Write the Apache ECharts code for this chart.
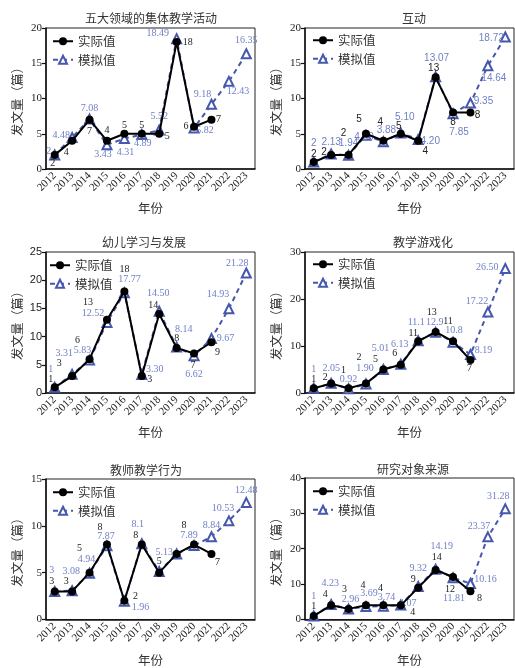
<!DOCTYPE html>
<html><head><meta charset="utf-8">
<script src="https://cdn.jsdelivr.net/npm/echarts@6/dist/echarts.min.js"></script>
<style>html,body{margin:0;padding:0;background:#fff;}#c{width:515px;height:668px;}</style>
</head><body><div id="c"></div>
<script>
var years = ['2012','2013','2014','2015','2016','2017','2018','2019','2020','2021','2022','2023'];

var titles = ['五大领域的集体教学活动','互动','幼儿学习与发展','教学游戏化','教师教学行为','研究对象来源'];
var yMax = [20, 20, 25, 30, 15, 40];
var yStep = [5, 5, 5, 10, 5, 10];

var actual1 = [2,4,7,4,5,5,5,18,6,7];
var sim1 = [2,4.48,7.08,3.43,4.31,4.89,5.52,18.49,5.82,9.18,12.43,16.35];
var actual2 = [1,2,2,5,4,5,4,13,8,8];
var sim2 = [1,2.13,1.94,4.80,3.88,5.10,4.20,13.07,7.85,9.35,14.64,18.72];
var actual3 = [1,3,6,13,18,3,14,8,7,9];
var sim3 = [1,3.31,5.83,12.52,17.77,3.30,14.50,8.14,6.62,9.67,14.93,21.28];
var actual4 = [1,2,1,2,5,6,11,13,11,7];
var sim4 = [1,2.05,0.92,1.90,5.01,6.13,11.1,12.9,10.8,8.19,17.22,26.50];
var actual5 = [3,3,5,8,2,8,5,7,8,7];
var sim5 = [3,3.08,4.94,7.87,1.96,8.1,5.13,7,7.89,8.84,10.53,12.48];
var actual6 = [1,4,3,4,4,4,9,14,12,8];
var sim6 = [1,4.23,2.96,3.69,3.74,4.07,9.32,14.19,11.81,10.16,23.37,31.28];

// label texts as printed in the picture
var actualText1 = ['2','4','7','4','5','5','5','18','6','7'];
var simText1 = ['2','4.48','7.08','3.43','4.31','4.89','5.52','18.49','5.82','9.18','12.43','16.35'];
var actualText2 = ['2','2','2','5','4','5','4','13','8','8'];
var simText2 = ['2','2.13','1.94','4.80','3.88','5.10','4.20','13.07','7.85','9.35','14.64','18.72'];
var actualText3 = ['1','3','6','13','18','3','14','8','7','9'];
var simText3 = ['1','3.31','5.83','12.52','17.77','3.30','14.50','8.14','6.62','9.67','14.93','21.28'];
var actualText4 = ['1','2','1','2','5','6','11','13','11','7'];
var simText4 = ['1','2.05','0.92','1.90','5.01','6.13','11.1','12.9','10.8','8.19','17.22','26.50'];
var actualText5 = ['3','3','5','8','2','8','5','','8','7'];
var simText5 = ['3','3.08','4.94','7.87','1.96','8.1','5.13','','7.89','8.84','10.53','12.48'];
var actualText6 = ['1','4','3','4','4','4','9','14','12','8'];
var simText6 = ['1','4.23','2.96','3.69','3.74','4.07','9.32','14.19','11.81','10.16','23.37','31.28'];

// label placement (pixel offsets from each point)
var actualOff = [
  [[-2,8],[-6,12],[0,12],[0,-10],[0,-8],[0,-8],[8,3],[11,0],[-8,0],[7,0]],
  [[0,-8],[-7,-3],[-5,-22],[-7,-15],[-3,-19],[-2,-8],[7,10],[-2,-9],[0,10],[7,3]],
  [[-4,-8],[-13,-13],[-12,-19],[-19,-17],[0,-22],[8,3],[-6,-9],[0,-10],[-1,12],[6,10]],
  [[0,-9],[-6,-6],[-5,-18],[-7,-26],[-8,-10],[-6,-11],[-5,-8],[-4,-20],[-5,-20],[-1,8]],
  [[-3,-10],[-6,-10],[-10,-24],[-7,-17],[11,-4],[-6,-9],[0,-11],[0,0],[-10,-19],[6,8]],
  [[0,-10],[-6,-11],[-4,-20],[-3,-20],[-3,-17],[12,7],[-5,-8],[1,-13],[-3,12],[9,7]]
];
var simOff = [
  [[-6,-4],[-11,-2],[0,-11],[-4,10],[1,14],[1,9],[0,-14],[-19,-5],[11,2],[-9,-10],[9,10],[0,-13]],
  [[0,-19],[0,-12],[0,-12],[-2,2],[3,-11],[4,-16],[12,2],[1,-19],[6,19],[13,-2],[6,12],[-14,1]],
  [[-4,-18],[-8,-21],[-7,-10],[-14,-9],[5,-13],[13,-5],[-1,-18],[7,-18],[0,19],[14,0],[-11,-14],[-9,-10]],
  [[0,-19],[0,-15],[0,-9],[-1,-16],[-3,-21],[-1,-20],[-2,-18],[-1,-10],[1,-12],[13,-4],[-11,-11],[-18,-1]],
  [[-3,-21],[-1,-19],[-3,-14],[-1,-9],[16,6],[-4,-19],[5,-19],[0,0],[-5,-10],[0,-11],[-6,-12],[0,-12]],
  [[0,-20],[-1,-21],[2,-10],[3,-13],[3,-9],[7,-2],[0,-18],[6,-23],[1,21],[15,-4],[-9,-10],[-7,-12]]
];

var actuals = [actual1,actual2,actual3,actual4,actual5,actual6];
var sims = [sim1,sim2,sim3,sim4,sim5,sim6];
var actualTexts = [actualText1,actualText2,actualText3,actualText4,actualText5,actualText6];
var simTexts = [simText1,simText2,simText3,simText4,simText5,simText6];

var grids = [
  {left:46, top:28, width:209, height:141},
  {left:305, top:28, width:209, height:141},
  {left:46, top:252, width:209, height:141},
  {left:305, top:252, width:209, height:141},
  {left:46, top:479, width:209, height:142},
  {left:305, top:478, width:209, height:142}
];
var titlePos = [[146,7],[409,7],[139,231],[418,231],[141,459],[408,458]];
var legendPos = [[47,30],[307,29],[44,254],[307,253],[47,481],[307,480]];

var SERIF = "'Liberation Serif', 'Noto Sans CJK SC', serif";
var SANS = "'Liberation Sans', 'Noto Sans CJK SC', sans-serif";
var CJK = "'Noto Sans CJK SC', sans-serif";
var BLUE = '#4657ae';
var BLUE_TXT = '#6f7fc6';

var option = {
  animation: false,
  backgroundColor: '#fff',
  title: [], legend: [], grid: [], xAxis: [], yAxis: [], series: []
};

for (var p = 0; p < 6; p++) {
  var g = grids[p];
  option.grid.push({left:g.left, top:g.top, width:g.width, height:g.height,
    show:true, borderColor:'#222', borderWidth:1, backgroundColor:'transparent'});
  option.title.push({text:titles[p], left:titlePos[p][0], top:titlePos[p][1], textAlign:'center',
    textStyle:{fontFamily:CJK, fontSize:12, fontWeight:'normal', color:'#333'}});
  option.legend.push({orient:'vertical', left:legendPos[p][0], top:legendPos[p][1],
    itemWidth:20, itemHeight:10, itemGap:6, data:['实际值','模拟值'],
    textStyle:{fontFamily:CJK, fontSize:12.5, color:'#333'}, selectedMode:false});
  option.xAxis.push({type:'category', gridIndex:p, data:years, boundaryGap:true,
    name:'年份', nameLocation:'middle', nameGap:(p >= 4 ? 35 : 33),
    nameTextStyle:{fontFamily:CJK, fontSize:12.5, color:'#333'},
    axisLine:{lineStyle:{color:'#111', width:1.5}},
    axisTick:{alignWithLabel:true, length:4, lineStyle:{color:'#111', width:1.2}},
    axisLabel:{rotate:45, fontFamily:SERIF, fontSize:11, color:'#222', margin:5, interval:0},
    splitLine:{show:false}});
  option.yAxis.push({type:'value', gridIndex:p, min:0, max:yMax[p], interval:yStep[p],
    name:'发文量（篇）', nameLocation:'middle', nameGap:22, nameRotate:90,
    nameTextStyle:{fontFamily:CJK, fontSize:12.5, color:'#333'},
    axisLine:{show:true, lineStyle:{color:'#111', width:1.5}},
    axisTick:{show:true, length:4, lineStyle:{color:'#111', width:1.2}},
    axisLabel:{fontFamily:(p===2?SANS:SERIF), fontSize:11, color:'#222', margin:4},
    splitLine:{show:false}});

  var labelFont = (p === 1 ? SANS : SERIF);
  var simData = sims[p].map(function(v, i){
    return {value:v, label:{show: simTexts[p][i] !== '', position:'inside', offset:simOff[p][i],
      formatter: simTexts[p][i], color:BLUE_TXT, fontFamily:labelFont, fontSize:10}};
  });
  var actData = actuals[p].map(function(v, i){
    return {value:v, label:{show: actualTexts[p][i] !== '', position:'inside', offset:actualOff[p][i],
      formatter: actualTexts[p][i], color:'#222', fontFamily:labelFont, fontSize:10}};
  });
  option.series.push({name:'模拟值', type:'line', xAxisIndex:p, yAxisIndex:p, data:simData,
    symbol:'emptyTriangle', symbolSize:9, z:2,
    lineStyle:{color:BLUE, width:2, type:[5,4]},
    itemStyle:{color:BLUE, borderColor:BLUE, borderWidth:1.6},
    label:{show:true}});
  option.series.push({name:'实际值', type:'line', xAxisIndex:p, yAxisIndex:p, data:actData,
    symbol:'circle', symbolSize:8, z:3,
    lineStyle:{color:'#000', width:2},
    itemStyle:{color:'#000'},
    label:{show:true}});
}

var chart = echarts.init(document.getElementById('c'), null, {renderer:'canvas'});
chart.setOption(option);
</script>
</body></html>
